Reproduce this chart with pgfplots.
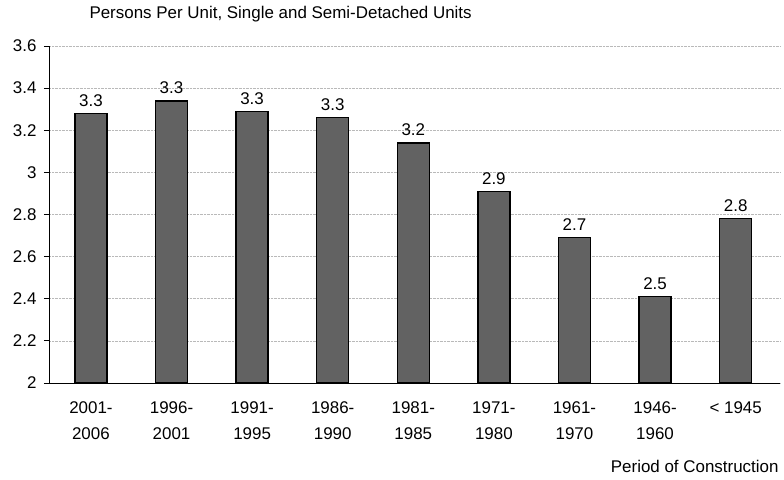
\documentclass[border=0pt]{standalone}
\usepackage{pgfplots}
\pgfplotsset{compat=1.18}
\usepackage{fontspec}
\setmainfont{Liberation Sans}
\definecolor{barfill}{RGB}{98,98,98}
\begin{document}
\begin{tikzpicture}
\path[use as bounding box] (0,0) rectangle (784bp,480bp);
\begin{axis}[
  at={(49bp,97bp)}, anchor=south west,
  scale only axis,
  width=731bp, height=337bp,
  xmin=-0.52, xmax=8.55,
  ymin=2, ymax=3.6,
  ytick={2,2.2,...,3.6},
  yticklabels={2,2.2,2.4,2.6,2.8,3,3.2,3.4,3.6},
  xtick={0,1,2,3,4,5,6,7,8},
  xticklabels={{2001-\\2006},{1996-\\2001},{1991-\\1995},{1986-\\1990},{1981-\\1985},{1971-\\1980},{1961-\\1970},{1946-\\1960},{< 1945}},
  axis x line=bottom, axis y line=left,
  axis line style={black, line width=0.9bp, -},
  x axis line style={-}, y axis line style={-},
  xtick style={draw=none},
  ytick style={black, line width=0.8bp},
  tick align=outside, major tick length=5bp,
  ymajorgrids,
  grid style={densely dotted, gray!55, line width=0.5bp},
  /pgf/number format/assume math mode=true,
  ticklabel style={font=\fontsize{17}{26}\selectfont, black},
  xticklabel style={align=center, yshift=-10bp},
  yticklabel style={xshift=-4bp},
  title={Persons Per Unit, Single and Semi-Detached Units},
  title style={at={(rel axis cs:0,1)}, anchor=base west, xshift=37bp, yshift=22bp, font=\fontsize{17}{20}\selectfont},
  xlabel={Period of Construction},
  xlabel style={at={(rel axis cs:1,0)}, anchor=base east, yshift=-89bp, xshift=2bp, font=\fontsize{17}{20}\selectfont},
  nodes near coords,
  point meta=explicit symbolic,
  nodes near coords style={font=\fontsize{17}{20}\selectfont, black, anchor=south, yshift=3bp},
]
\addplot[ybar, bar width=32bp, fill=barfill, draw=black, line width=1.5bp] coordinates {
  (0,3.28) [3.3]
  (1,3.34) [3.3]
  (2,3.29) [3.3]
  (3,3.26) [3.3]
  (4,3.14) [3.2]
  (5,2.91) [2.9]
  (6,2.69) [2.7]
  (7,2.41) [2.5]
  (8,2.78) [2.8]
};
\end{axis}
\end{tikzpicture}
\end{document}
